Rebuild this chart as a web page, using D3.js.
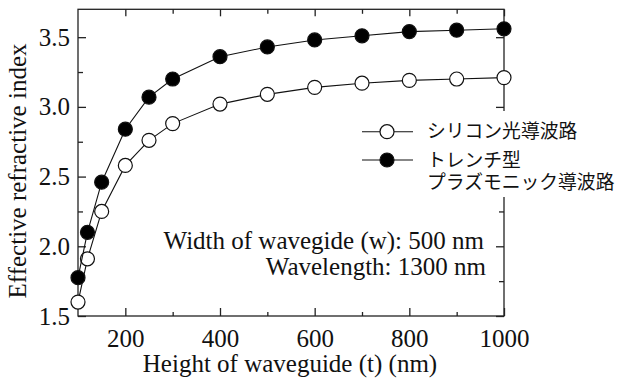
<!DOCTYPE html>
<html>
<head>
<meta charset="utf-8">
<script src="https://cdn.jsdelivr.net/npm/d3@7"></script>
<style>
  body { margin: 0; background: #fff; }
  svg { display: block; }
  .serif { font-family: 'Times New Roman', 'Liberation Serif', Times, 'DejaVu Serif', serif; font-size: 25px; fill: #111; }
  .axis text { font-family: 'Times New Roman', 'Liberation Serif', Times, 'DejaVu Serif', serif; font-size: 25px; fill: #111; }
  .axis path, .axis line { stroke: #222; stroke-width: 1.3; }
</style>
</head>
<body>
<svg width="620" height="381"></svg>
<script>
// data
const heights = [100, 120, 150, 200, 250, 300, 400, 500, 600, 700, 800, 900, 1000];
const siliconIdx = [1.60, 1.91, 2.25, 2.58, 2.76, 2.88, 3.02, 3.09, 3.14, 3.17, 3.19, 3.20, 3.21];
const trenchIdx = [1.775, 2.10, 2.46, 2.84, 3.07, 3.20, 3.36, 3.43, 3.48, 3.51, 3.54, 3.55, 3.56];
const seriesNames = ['シリコン光導波路', ['トレンチ型', 'プラズモニック導波路']];

const xMajor = [200, 400, 600, 800, 1000];
const xMinor = [300, 500, 700, 900];
const yMajor = [1.5, 2.0, 2.5, 3.0, 3.5];
const yMinor = [1.75, 2.25, 2.75, 3.25];

const margins = { left: 78, top: 9.3, right: 116, bottom: 65 };
const W = 620, H = 381;
const plotW = W - margins.left - margins.right;
const plotH = H - margins.top - margins.bottom;

const svg = d3.select('svg');
const chart = svg.append('g')
    .attr('transform', `translate(${margins.left},${margins.top})`);

const xScale = d3.scaleLinear().domain([100, 1000]).range([0, plotW]);
const yScale = d3.scaleLinear().domain([1.5, 3.7]).range([plotH, 0]);

// ---------------------------------------------------------
// frame + inward ticks
chart.append('rect')
    .attr('width', plotW).attr('height', plotH)
    .attr('fill', 'none').attr('stroke', '#222').attr('stroke-width', 1.3);

function addAxis(gen, tr, labelled) {
    const g = chart.append('g').attr('class', 'axis').attr('transform', tr).call(gen);
    g.select('.domain').remove();
    if (!labelled) g.selectAll('text').remove();
    return g;
}

addAxis(d3.axisBottom(xScale).tickValues(xMajor).tickSize(-8).tickPadding(13).tickFormat(d3.format('d')), `translate(0,${plotH})`, true)
    .selectAll('text').attr('dy', '0.71em');
addAxis(d3.axisBottom(xScale).tickValues(xMinor).tickSize(-4), `translate(0,${plotH})`, false);
addAxis(d3.axisTop(xScale).tickValues(xMajor).tickSize(-7), 'translate(0,0)', false);
addAxis(d3.axisTop(xScale).tickValues(xMinor).tickSize(-4.5), 'translate(0,0)', false);

addAxis(d3.axisLeft(yScale).tickValues(yMajor).tickSize(-8).tickPadding(8).tickFormat(d3.format('.1f')), 'translate(0,0)', true);
addAxis(d3.axisLeft(yScale).tickValues(yMinor).tickSize(-5), 'translate(0,0)', false);
addAxis(d3.axisRight(yScale).tickValues(yMajor).tickSize(-8), `translate(${plotW},0)`, false);
addAxis(d3.axisRight(yScale).tickValues(yMinor).tickSize(-5), `translate(${plotW},0)`, false);

// ---------------------------------------------------------
// series
const line = d3.line().x((d, i) => xScale(heights[i])).y(d => yScale(d));

[[siliconIdx, '#fff'], [trenchIdx, '#000']].forEach(([vals, fill]) => {
    chart.append('path')
        .attr('d', line(vals))
        .attr('fill', 'none').attr('stroke', '#111').attr('stroke-width', 1.1);
    chart.append('g').selectAll('circle')
        .data(vals)
        .enter()
        .append('circle')
        .attr('cx', (d, i) => xScale(heights[i]))
        .attr('cy', d => yScale(d))
        .attr('r', 7)
        .attr('fill', fill)
        .attr('stroke', '#111').attr('stroke-width', 1.2);
});

// ---------------------------------------------------------
// axis titles
svg.append('text')
    .attr('class', 'serif')
    .text('Height of waveguide (t) (nm)')
    .attr('x', 290).attr('y', 372)
    .attr('text-anchor', 'middle');
svg.append('text')
    .attr('class', 'serif')
    .text('Effective refractive index')
    .attr('transform', 'translate(26,171) rotate(-90)')
    .attr('text-anchor', 'middle');

// ---------------------------------------------------------
// legend (white box hides part of the right border)
const legend = svg.append('g');
legend.append('rect')
    .attr('x', 356).attr('y', 111).attr('width', 160).attr('height', 86)
    .attr('fill', '#fff');
const legendRows = [131.7, 160];
[['#fff', 0], ['#000', 1]].forEach(([fill, i]) => {
    const cy = legendRows[i];
    legend.append('line')
        .attr('x1', 362).attr('x2', 413).attr('y1', cy).attr('y2', cy)
        .attr('stroke', '#111').attr('stroke-width', 1.1);
    legend.append('circle')
        .attr('cx', 387).attr('cy', cy).attr('r', 7)
        .attr('fill', fill).attr('stroke', '#111').attr('stroke-width', 1.2);
    // multi-line names go into one text element
    const txt = legend.append('text')
        .attr('x', 427).attr('y', cy)
        .style('font-family', "'Noto Sans CJK JP', sans-serif")
        .style('font-size', '18.8px').style('fill', '#111');
    [].concat(seriesNames[i]).forEach((n, k) => {
        txt.append('tspan')
            .text(n)
            .attr('x', 427)
            .attr('y', cy + k * 22)
            .attr('dy', '0.36em');
    });
});

// ---------------------------------------------------------
// annotation
const notes = ['Width of wavegide (w): 500 nm', 'Wavelength: 1300 nm'];
svg.append('g').selectAll('text')
    .data(notes)
    .enter()
    .append('text')
    .attr('class', 'serif')
    .text(d => d)
    .attr('x', (d, i) => (i ? 486 : 484))
    .attr('y', (d, i) => 249 + i * 26)
    .attr('text-anchor', 'end');
</script>
</body>
</html>
